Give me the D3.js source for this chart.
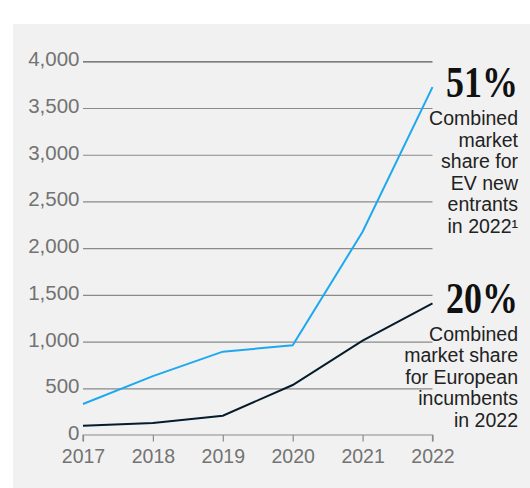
<!DOCTYPE html>
<html>
<head>
<meta charset="utf-8">
<script src="https://cdn.jsdelivr.net/npm/d3@7"></script>
<style>
  body { margin: 0; background: #fff; }
  svg { display: block; }
</style>
</head>
<body>
<div class="graphHere"></div>
<script>
// data
var years = [2017, 2018, 2019, 2020, 2021, 2022];
var newEntrants = [332, 630, 892, 960, 2175, 3724];
var incumbents = [100, 128, 207, 535, 1010, 1410];
var yTicks = [0, 500, 1000, 1500, 2000, 2500, 3000, 3500, 4000];

var dims = { width: 530, height: 488 };
var svg = d3.select(".graphHere").append("svg")
  .attr("width", dims.width)
  .attr("height", dims.height);

// grey panel
svg.append("rect")
  .attr("x", 13).attr("y", 24)
  .attr("width", dims.width - 13).attr("height", dims.height - 24)
  .attr("fill", "#f1f1f1");

var x = d3.scalePoint().domain(years).range([83, 432.5]);
var y = d3.scaleLinear().domain([0, 4000]).range([435, 61.3]);

var font = "'Liberation Sans', Arial, Helvetica, sans-serif";

// gridlines + y labels
var yAxis = d3.axisLeft(y)
  .tickValues(yTicks)
  .tickSize(-(x(2022) - x(2017)))
  .tickFormat(d3.format(","));
var gy = svg.append("g")
  .attr("transform", "translate(" + x(2017) + ",0)")
  .call(yAxis);
gy.select(".domain").remove();
gy.selectAll(".tick line")
  .attr("stroke", "#8a8a8a")
  .attr("stroke-width", 1.2)
  .filter(function(d){ return d == 0; }).remove();
gy.select(".tick:last-of-type line").attr("stroke", "#5a5a5a");
gy.selectAll(".tick text")
  .attr("x", -3.5)
  .attr("dy", "0.22em")
  .attr("fill", "#737373")
  .style("font-family", font)
  .style("font-size", "20.5px");

// x axis
var xAxis = d3.axisBottom(x).tickSize(6.5).tickPadding(8);
var gx = svg.append("g")
  .attr("transform", "translate(0," + y(0) + ")")
  .call(xAxis);
gx.select(".domain")
  .attr("stroke", "#8a8a8a")
  .attr("stroke-width", 1.2)
  .attr("d", "M" + x(2017) + ",6.5V0H" + x(2022) + "V6.5");
gx.selectAll(".tick line").attr("stroke", "#8a8a8a").attr("stroke-width", 1.2);
gx.selectAll(".tick text")
  .attr("fill", "#737373")
  .style("font-family", font)
  .style("font-size", "19.5px");

// lines
var line = d3.line()
  .x(function(d, i){ return x(years[i]); })
  .y(function(d){ return y(d); });

svg.append("path")
  .datum(incumbents)
  .attr("d", line)
  .attr("fill", "none")
  .attr("stroke", "#051c2c")
  .attr("stroke-width", 2);

svg.append("path")
  .datum(newEntrants)
  .attr("d", line)
  .attr("fill", "none")
  .attr("stroke", "#1ea8ef")
  .attr("stroke-width", 2);

// annotations
var notes = [
  { big: "51%", top: 97, lines: ["Combined", "market", "share for", "EV new", "entrants", "in 2022\u00b9"] },
  { big: "20%", top: 312.5, lines: ["Combined", "market share", "for European", "incumbents", "in 2022"] }
];
var rightX = 518;
notes.forEach(function(n){
  svg.append("g")
    .attr("transform", "translate(" + rightX + "," + n.top + ") scale(1,1.26)")
    .append("text")
      .attr("text-anchor", "end")
      .attr("fill", "#111")
      .style("font-family", "'Liberation Serif', 'DejaVu Serif', serif")
      .style("font-weight", "bold")
      .style("font-size", "36px")
      .text(n.big);
  n.lines.forEach(function(t, i){
    svg.append("text")
      .attr("x", rightX).attr("y", n.top + 28 + 21.6 * i)
      .attr("text-anchor", "end")
      .attr("fill", "#222")
      .style("font-family", font)
      .style("font-size", "19.5px")
      .text(t);
  });
});
</script>
</body>
</html>
